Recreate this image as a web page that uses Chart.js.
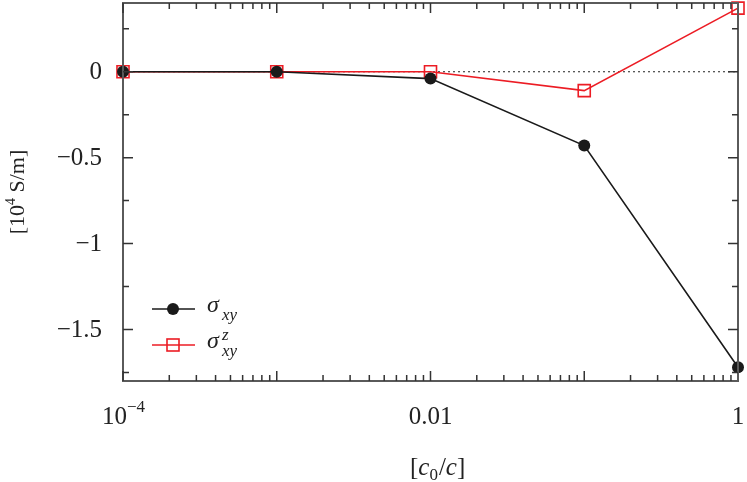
<!DOCTYPE html>
<html>
<head>
<meta charset="utf-8">
<script src="https://cdn.jsdelivr.net/npm/chart.js@4/dist/chart.umd.min.js"></script>
<style>
  html, body { margin: 0; padding: 0; background: #fff; }
  #wrap { width: 747px; height: 482px; }
</style>
</head>
<body>
<div id="wrap"><canvas id="chart" width="747" height="482"></canvas></div>
<script>
// concentration ratio c0/c (log axis)
const concentrations = [1e-4, 1e-3, 1e-2, 1e-1, 1];
// conductivities in 10^4 S/m
const sigma_xy = [0, 0, -0.04, -0.43, -1.72];
const sigma_z_xy = [0, 0, 0, -0.11, 0.37];

const y_major_ticks = [0, -0.5, -1, -1.5];
const y_tick_labels = ["0", "\u22120.5", "\u22121", "\u22121.5"];
const y_minor_ticks = [0.25, -0.25, -0.75, -1.25, -1.75];
const x_label_ticks = [1e-4, 1e-2, 1];

const serif = '"Liberation Serif", "DejaVu Serif", serif';
const red = "rgb(236, 28, 36)";
const black = "#1a1a1a";

function toPoints(values) {
    return concentrations.map((c, i) => ({x: c, y: values[i]}));
}

// frame, inward ticks, labels and legend drawn on top of the library scales
const framePlugin = {
    id: "frame",
    beforeDatasetsDraw(chart) {
        const ctx = chart.ctx;
        const ys = chart.scales.y;
        const area = chart.chartArea;

        // dotted zero line
        ctx.save();
        ctx.strokeStyle = "#222";
        ctx.lineWidth = 1.2;
        ctx.setLineDash([2, 3]);
        ctx.beginPath();
        ctx.moveTo(area.left, ys.getPixelForValue(0));
        ctx.lineTo(area.right, ys.getPixelForValue(0));
        ctx.stroke();
        ctx.restore();
    },
    afterDraw(chart) {
        const ctx = chart.ctx;
        const xs = chart.scales.x;
        const ys = chart.scales.y;
        const area = chart.chartArea;

        ctx.save();
        ctx.strokeStyle = "#5a5a5a";
        ctx.lineWidth = 2;
        ctx.strokeRect(area.left, area.top, area.right - area.left, area.bottom - area.top);

        ctx.lineWidth = 1.5;
        ctx.strokeStyle = "#333";
        ctx.beginPath();
        // y ticks, both sides
        y_major_ticks.forEach(v => {
            const p = ys.getPixelForValue(v);
            ctx.moveTo(area.left, p); ctx.lineTo(area.left + 10, p);
            ctx.moveTo(area.right, p); ctx.lineTo(area.right - 10, p);
        });
        y_minor_ticks.forEach(v => {
            const p = ys.getPixelForValue(v);
            ctx.moveTo(area.left, p); ctx.lineTo(area.left + 6, p);
            ctx.moveTo(area.right, p); ctx.lineTo(area.right - 6, p);
        });
        // x ticks, top and bottom
        for (let d = -4; d < 0; d++) {
            for (let m = 1; m <= 9; m++) {
                const p = xs.getPixelForValue(m * Math.pow(10, d));
                const len = (m == 1) ? 10 : 6;
                ctx.moveTo(p, area.bottom); ctx.lineTo(p, area.bottom - len);
                ctx.moveTo(p, area.top); ctx.lineTo(p, area.top + len);
            }
        }
        ctx.stroke();

        // tick labels
        ctx.fillStyle = "#222";
        ctx.font = "25px " + serif;
        ctx.textAlign = "right";
        ctx.textBaseline = "middle";
        y_major_ticks.forEach((v, i) => {
            ctx.fillText(y_tick_labels[i], 102, ys.getPixelForValue(v) + 1);
        });

        ctx.textBaseline = "alphabetic";
        ctx.textAlign = "center";
        x_label_ticks.forEach(v => {
            const p = xs.getPixelForValue(v);
            if (v == 1e-4) {
                ctx.textAlign = "right";
                ctx.fillText("10", p + 4, 424);
                ctx.font = "17px " + serif;
                ctx.textAlign = "left";
                ctx.fillText("\u22124", p + 4, 412);
                ctx.font = "25px " + serif;
                ctx.textAlign = "center";
            } else {
                ctx.fillText(v == 1 ? "1" : "0.01", p, 424);
            }
        });

        // x title [c0/c]
        ctx.textAlign = "left";
        let x0 = 410;
        ctx.font = "25px " + serif;
        ctx.fillText("[", x0, 475); x0 += ctx.measureText("[").width;
        ctx.font = "italic 25px " + serif;
        ctx.fillText("c", x0, 475); x0 += ctx.measureText("c").width;
        ctx.font = "17px " + serif;
        ctx.fillText("0", x0, 480); x0 += ctx.measureText("0").width + 1;
        ctx.font = "25px " + serif;
        ctx.fillText("/", x0, 475); x0 += ctx.measureText("/").width;
        ctx.font = "italic 25px " + serif;
        ctx.fillText("c", x0, 475); x0 += ctx.measureText("c").width;
        ctx.font = "25px " + serif;
        ctx.fillText("]", x0, 475);

        // y title [10^4 S/m], rotated
        ctx.save();
        ctx.translate(24, 192);
        ctx.rotate(-Math.PI / 2);
        const parts = [["[10", 22, 0], ["4", 14, -9], [" S/m]", 22, 0]];
        let total = 0;
        parts.forEach(pt => { ctx.font = pt[1] + "px " + serif; total += ctx.measureText(pt[0]).width; });
        let px = -total / 2;
        parts.forEach(pt => {
            ctx.font = pt[1] + "px " + serif;
            ctx.fillText(pt[0], px, pt[2]);
            px += ctx.measureText(pt[0]).width;
        });
        ctx.restore();

        // legend
        const rows = [
            {color: black, y: 309, sup: ""},
            {color: red, y: 345, sup: "z"}
        ];
        rows.forEach((row, i) => {
            ctx.strokeStyle = row.color;
            ctx.lineWidth = 1.6;
            ctx.beginPath();
            ctx.moveTo(152, row.y); ctx.lineTo(195, row.y);
            ctx.stroke();
            if (i == 0) {
                ctx.fillStyle = black;
                ctx.beginPath();
                ctx.arc(173, row.y, 6, 0, Math.PI * 2);
                ctx.fill();
            } else {
                ctx.strokeRect(167, row.y - 6, 12, 12);
            }
            ctx.fillStyle = "#222";
            ctx.textAlign = "left";
            ctx.font = "italic 24px " + serif;
            ctx.fillText("\u03c3", 207, row.y + 3);
            ctx.font = "italic 17px " + serif;
            ctx.fillText("xy", 222, row.y + 11);
            if (row.sup) ctx.fillText(row.sup, 222, row.y - 5);
        });
        ctx.restore();
    }
};

new Chart(document.getElementById("chart"), {
    type: "line",
    data: {
        datasets: [
            {
                label: "sigma_xy",
                data: toPoints(sigma_xy),
                borderColor: black,
                backgroundColor: black,
                borderWidth: 1.6,
                pointStyle: "circle",
                pointRadius: 6,
                pointBorderWidth: 0,
                pointBackgroundColor: black,
                clip: false
            },
            {
                label: "sigma_z_xy",
                data: toPoints(sigma_z_xy),
                borderColor: red,
                backgroundColor: "rgba(0,0,0,0)",
                borderWidth: 1.6,
                pointStyle: "rect",
                pointRadius: 8.5,
                pointBorderWidth: 1.6,
                pointBorderColor: red,
                pointBackgroundColor: "rgba(0,0,0,0)",
                clip: false
            }
        ]
    },
    options: {
        responsive: false,
        animation: false,
        layout: {autoPadding: false, padding: {left: 123, right: 9, top: 3, bottom: 101}},
        plugins: {legend: {display: false}, tooltip: {enabled: false}},
        scales: {
            x: {type: "logarithmic", min: 1e-4, max: 1, display: false},
            y: {type: "linear", min: -1.8, max: 0.4, display: false}
        }
    },
    plugins: [framePlugin]
});
</script>
</body>
</html>
